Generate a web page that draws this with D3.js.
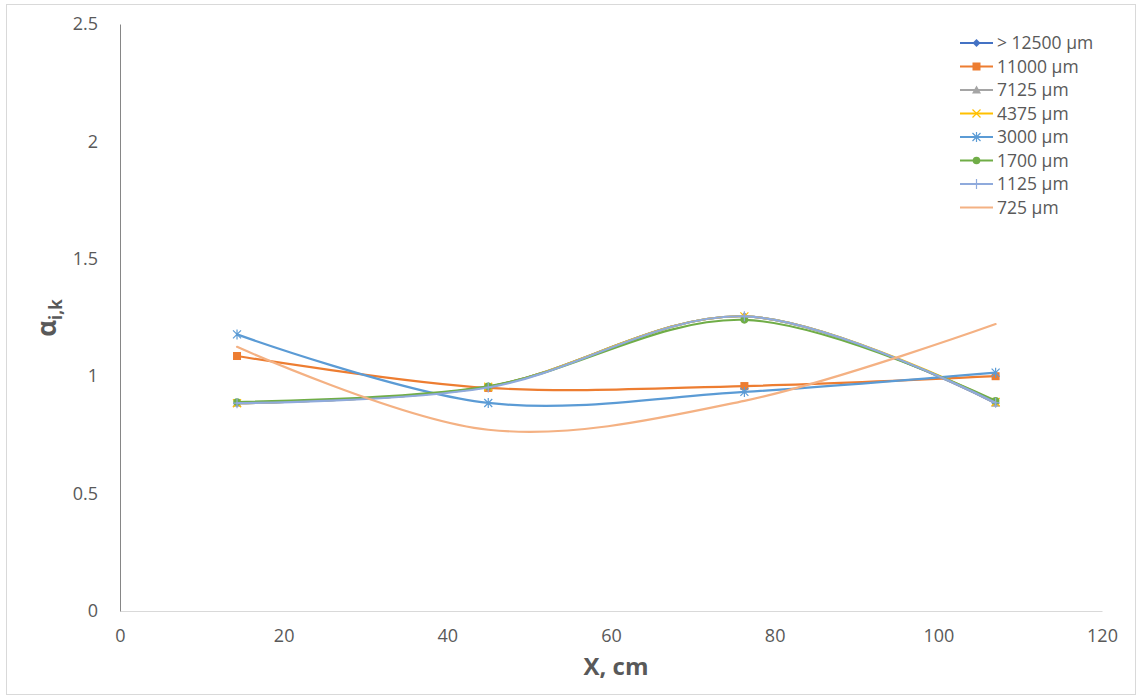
<!DOCTYPE html>
<html>
<head>
<meta charset="utf-8">
<script src="https://cdnjs.cloudflare.com/ajax/libs/d3/7.8.5/d3.min.js"></script>
<style>
  body { margin: 0; background: #fff; }
  svg { font-family: "Open Sans", "Noto Sans", sans-serif; }
</style>
</head>
<body>
<div id="chart"></div>
<script>
// data
var xPos = [14.3, 45, 76.3, 107];
var s12500 = [0.885, 0.955, 1.255, 0.885];
var s11000 = [1.086, 0.95, 0.958, 1.0];
var s7125 = [0.885, 0.955, 1.255, 0.885];
var s4375 = [0.885, 0.955, 1.255, 0.89];
var s3000 = [1.178, 0.886, 0.933, 1.015];
var s1700 = [0.89, 0.957, 1.24, 0.895];
var s1125 = [0.885, 0.952, 1.255, 0.887];
var s725 = [1.125, 0.772, 0.895, 1.222];

var seriesNames = ["> 12500 µm", "11000 µm", "7125 µm", "4375 µm", "3000 µm", "1700 µm", "1125 µm", "725 µm"];
var seriesVals = [s12500, s11000, s7125, s4375, s3000, s1700, s1125, s725];
var colors = ["#4472C4", "#ED7D31", "#A5A5A5", "#FFC000", "#5B9BD5", "#70AD47", "#8FAADC", "#F4B183"];
var markers = ["diamond", "square", "triangle", "x", "star", "circle", "plus", "none"];

var xTicks = [0, 20, 40, 60, 80, 100, 120];
var yTicks = [0, 0.5, 1, 1.5, 2, 2.5];

var W = 1138, H = 698;
var svg = d3.select("#chart").append("svg").attr("width", W).attr("height", H);

// outer border of the chart
svg.append("rect").attr("x", 6.5).attr("y", 4.5).attr("width", 1129).attr("height", 690)
  .attr("fill", "none").attr("stroke", "#d9d9d9");

var x = d3.scaleLinear().domain([0, 120]).range([120, 1102]);
var y = d3.scaleLinear().domain([0, 2.5]).range([611, 24]);

// axes
var xAxis = svg.append("g").attr("transform", "translate(0," + y(0) + ")")
  .call(d3.axisBottom(x).tickValues(xTicks).tickSize(0).tickPadding(18));
xAxis.select(".domain").attr("stroke", "#d9d9d9");
xAxis.selectAll("text").attr("font-size", 18).attr("fill", "#595959")
  .attr("font-family", "Open Sans, sans-serif");

var yAxis = svg.append("g").attr("transform", "translate(" + x(0) + ",0)")
  .call(d3.axisLeft(y).tickValues(yTicks).tickSize(0).tickPadding(22)
    .tickFormat(function(d){ return String(d); }));
yAxis.select(".domain").attr("stroke", "#868686");
yAxis.selectAll("text").attr("font-size", 18).attr("fill", "#595959")
  .attr("font-family", "Open Sans, sans-serif");

// axis titles
svg.append("text").attr("x", 616).attr("y", 675).attr("text-anchor", "middle")
  .attr("font-size", 24).attr("font-weight", "bold").attr("fill", "#595959")
  .text("X, cm");

var yt = svg.append("text").attr("transform", "translate(56,318) rotate(-90)")
  .attr("text-anchor", "middle").attr("font-weight", "bold").attr("fill", "#595959");
yt.append("tspan").attr("font-size", 26).text("α");
yt.append("tspan").attr("font-size", 17).attr("dy", 6).text("i,k");

var line = d3.line()
  .x(function(d){ return x(d[0]); })
  .y(function(d){ return y(d[1]); })
  .curve(d3.curveCatmullRom.alpha(0.5));

function drawMarker(g, type, cx, cy, color) {
  var s = 4;
  if (type === "diamond") {
    g.append("path").attr("d", "M" + cx + "," + (cy - s) + "L" + (cx + s) + "," + cy + "L" + cx + "," + (cy + s) + "L" + (cx - s) + "," + cy + "Z")
      .attr("fill", color);
  } else if (type === "square") {
    g.append("rect").attr("x", cx - 4).attr("y", cy - 4).attr("width", 8).attr("height", 8).attr("fill", color);
  } else if (type === "triangle") {
    g.append("path").attr("d", "M" + cx + "," + (cy - 4.5) + "L" + (cx + 4.5) + "," + (cy + 3.5) + "L" + (cx - 4.5) + "," + (cy + 3.5) + "Z")
      .attr("fill", color);
  } else if (type === "circle") {
    g.append("circle").attr("cx", cx).attr("cy", cy).attr("r", 3.8).attr("fill", color);
  } else if (type === "x") {
    g.append("path").attr("d", "M" + (cx - 4) + "," + (cy - 4) + "L" + (cx + 4) + "," + (cy + 4) + "M" + (cx + 4) + "," + (cy - 4) + "L" + (cx - 4) + "," + (cy + 4))
      .attr("stroke", color).attr("stroke-width", 1.2);
  } else if (type === "star") {
    g.append("path").attr("d", "M" + (cx - 4) + "," + (cy - 4) + "L" + (cx + 4) + "," + (cy + 4) + "M" + (cx + 4) + "," + (cy - 4) + "L" + (cx - 4) + "," + (cy + 4) + "M" + cx + "," + (cy - 5) + "L" + cx + "," + (cy + 5))
      .attr("stroke", color).attr("stroke-width", 1.2);
  } else if (type === "plus") {
    g.append("path").attr("d", "M" + (cx - 4) + "," + cy + "L" + (cx + 4) + "," + cy + "M" + cx + "," + (cy - 5) + "L" + cx + "," + (cy + 5))
      .attr("stroke", color).attr("stroke-width", 1.2);
  }
}

// series
seriesVals.forEach(function(vals, i) {
  var pts = vals.map(function(v, j){ return [xPos[j], v]; });
  var g = svg.append("g");
  g.append("path").datum(pts).attr("d", line)
    .attr("fill", "none").attr("stroke", colors[i]).attr("stroke-width", 2.2)
    .attr("stroke-linecap", "round");
  pts.forEach(function(p) {
    drawMarker(g, markers[i], x(p[0]), y(p[1]), colors[i]);
  });
});

// legend
var lg = svg.append("g");
seriesNames.forEach(function(name, i) {
  var ly = 43 + i * 23.5;
  lg.append("line").attr("x1", 960).attr("x2", 993).attr("y1", ly).attr("y2", ly)
    .attr("stroke", colors[i]).attr("stroke-width", 2.2);
  drawMarker(lg, markers[i], 976.5, ly, colors[i]);
  lg.append("text").attr("x", 997).attr("y", ly + 6).attr("font-size", 17.5)
    .attr("fill", "#595959").text(name);
});
</script>
</body>
</html>
